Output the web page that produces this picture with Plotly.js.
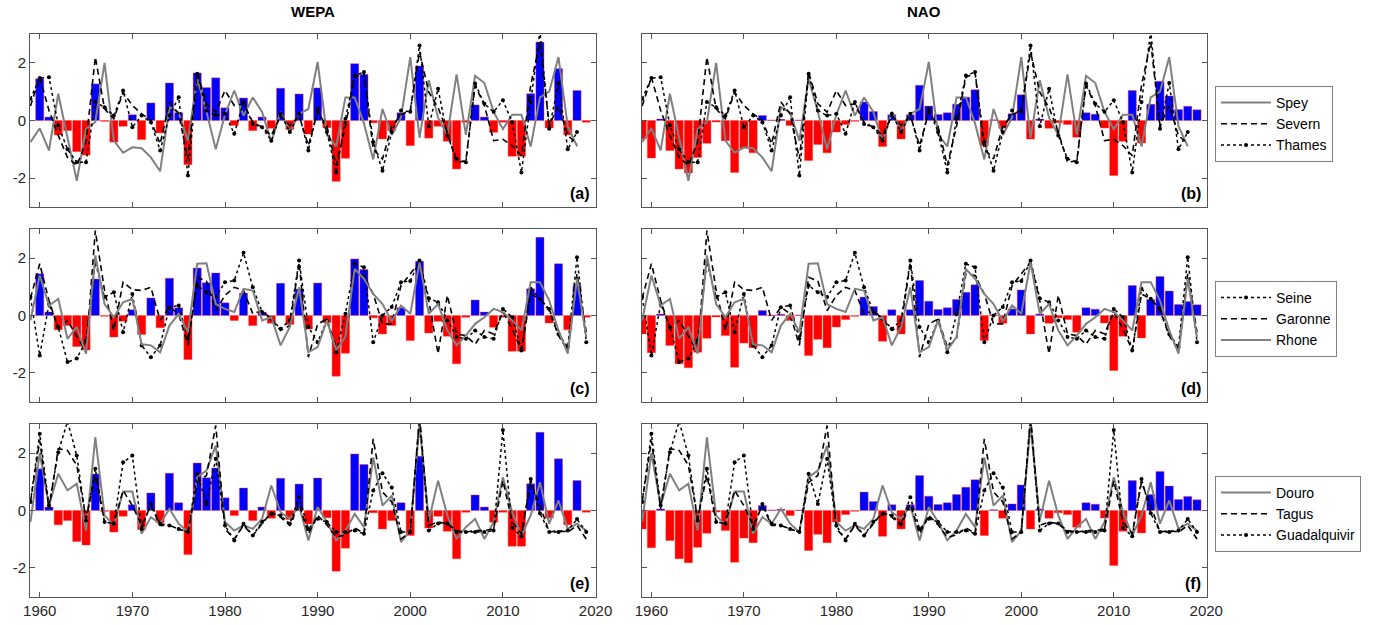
<!DOCTYPE html>
<html>
<head>
<meta charset="utf-8">
<script src="https://cdn.plot.ly/plotly-3.0.1.min.js"></script>
<style>
html,body{margin:0;padding:0;background:#fff;}
#chart{width:1387px;height:625px;}
</style>
</head>
<body>
<div id="chart"></div>
<script>
// ---------------- DATA (years 1959..2019) ----------------
const years = [1959,1960,1961,1962,1963,1964,1965,1966,1967,1968,1969,1970,1971,1972,1973,1974,1975,1976,1977,1978,1979,1980,1981,1982,1983,1984,1985,1986,1987,1988,1989,1990,1991,1992,1993,1994,1995,1996,1997,1998,1999,2000,2001,2002,2003,2004,2005,2006,2007,2008,2009,2010,2011,2012,2013,2014,2015,2016,2017,2018,2019];

const wepa = [null,1.45,0.12,-0.5,-0.35,-1.08,-1.2,1.27,-0.03,-0.75,-0.2,0.2,-0.66,0.61,-0.43,1.3,0.27,-1.53,1.65,1.14,1.48,0.44,-0.17,0.78,-0.35,0.12,-0.27,1.12,-0.31,0.92,-0.47,1.13,-0.25,-2.11,-1.31,1.97,1.6,-0.08,-0.64,-0.35,0.27,-0.87,1.89,-0.61,-0.2,-0.72,-1.68,-0.06,0.54,0.12,-0.41,-0.06,-1.24,-1.24,0.93,2.72,-0.26,1.8,-0.5,1.04,-0.06];

const nao = [-0.64,-1.3,0.05,-1.04,-1.68,-1.82,-1.28,-0.79,-0.05,-0.7,-1.8,-0.96,-1.12,0.17,0.02,0.04,-0.17,0.02,-1.39,-0.83,-1.12,-0.4,-0.14,-0.03,0.64,0.31,-0.9,0.2,-0.64,0.2,1.22,0.5,0.21,0.27,0.56,0.81,1.07,-0.87,0.03,-0.27,0.23,0.89,-0.64,0.05,-0.27,-0.08,-0.14,-0.58,0.27,0.22,-0.26,-1.91,-0.72,1.04,-0.78,0.56,1.36,0.85,0.38,0.49,0.37];

const spey = [-0.75,-0.27,-1.04,0.93,-0.6,-2.09,-0.3,-0.05,2.0,-0.7,-1.12,-0.93,-0.96,-1.28,-1.76,0.46,0.27,-0.7,1.45,0.3,-1.0,0.2,1.04,0.17,0.8,0.3,-0.75,0.3,-0.4,0.23,0.4,2.03,-0.5,-0.9,0.8,0.8,-0.1,-1.35,0.4,-0.5,0.1,2.2,-0.6,1.4,0.1,-0.5,1.6,-0.5,1.55,1.3,0.3,-0.3,0.2,0.2,-0.9,0.8,1.0,2.2,-0.2,-0.9,null];
const severn = [0.5,1.5,0.35,-0.52,-1.28,-1.56,-0.75,2.2,0.4,0.06,0.98,0.52,0.23,0.0,-0.81,0.64,0.23,-1.33,1.68,0.58,0.29,1.04,0.52,0.58,-0.06,-0.23,-0.52,0.17,-0.17,0.17,-0.87,0.3,-0.2,-1.56,-0.2,1.5,1.65,-1.0,-1.33,-0.2,0.2,0.35,2.38,0.98,0.45,-0.4,-1.45,-1.4,1.22,0.52,-0.7,-0.65,-0.87,-1.22,1.22,2.72,-0.17,0.52,-0.52,-0.81,null];
const thames = [0.75,1.47,1.5,-0.17,-1.0,-1.45,-1.45,0.64,0.46,0.17,1.04,-0.23,0.17,-0.06,-1.04,0.17,0.81,-1.91,1.62,0.35,0.17,0.23,-0.46,0.64,-0.12,-0.23,-0.7,0.23,-0.4,0.23,-1.04,0.4,-0.4,-1.8,0.06,1.56,1.68,-0.75,-1.74,-0.4,0.35,0.3,2.6,-0.2,1.1,-0.52,-1.33,-1.45,1.28,0.58,0.3,0.7,-0.06,-1.8,0.64,3.1,-0.29,1.3,-1.0,-0.4,null];

const seine = [0.64,-1.39,0.4,-0.4,-1.62,-1.5,-0.87,1.85,0.64,0.81,-0.58,0.75,-1.04,-1.45,-1.04,0.29,0.35,-0.81,1.04,0.81,0.64,1.16,1.22,2.18,0.98,0.12,-0.12,-0.46,-0.17,1.91,-0.4,-0.93,-0.17,-1.28,0.06,1.8,1.68,-0.93,0.0,0.3,1.16,1.2,1.91,0.6,0.46,-0.17,-0.75,-0.81,-0.52,-0.75,-0.81,0.23,-0.06,-1.22,0.93,0.58,0.23,-0.64,-1.1,2.03,-0.93];
const garonne = [0.6,1.8,0.52,-0.46,-0.17,-0.7,-1.28,2.96,0.87,-0.52,1.16,0.9,0.87,0.98,-0.17,0.29,0.06,-1.04,1.33,1.2,0.17,0.7,0.98,0.87,0.06,0.17,-0.12,-0.52,-0.35,1.85,-1.45,-0.3,-0.12,-1.1,-0.81,1.45,1.39,0.75,-0.29,-0.29,1.04,1.45,1.85,0.52,-1.33,0.7,-0.64,-0.7,-1.0,-0.52,-0.64,0.12,-0.46,-1.22,0.75,0.58,0.17,-0.7,-1.22,1.45,-0.58];
const rhone = [-0.17,1.39,0.35,0.58,-0.81,-0.4,-1.33,2.09,0.4,-0.06,0.46,0.58,-1.0,-1.04,-1.28,-0.35,0.06,-0.58,1.8,1.82,0.4,0.23,0.12,0.93,0.87,-0.17,-0.06,-1.04,-0.4,0.98,-1.28,-1.1,-0.17,-1.2,-0.75,1.62,1.28,0.75,0.4,-0.2,0.35,0.06,1.85,0.06,0.4,-0.52,-1.04,-0.7,-0.29,-0.06,0.23,0.12,-0.17,-0.52,1.16,1.16,0.52,-0.52,-1.33,1.28,-0.75];

const douro = [-0.4,2.0,0.17,1.28,0.7,0.93,-0.7,2.55,-0.17,-0.52,0.66,0.66,-0.81,-0.23,-0.46,0.06,-0.46,-0.75,1.16,1.39,2.26,-0.4,-0.7,-0.52,-0.64,-0.29,0.87,-0.06,-0.29,0.17,-1.04,0.12,-0.4,-1.04,-0.7,-0.12,-0.58,1.85,0.17,0.52,-1.1,-0.7,3.0,-0.35,1.04,-0.17,-0.99,-0.58,-0.29,-0.99,-0.4,1.16,-0.06,-0.87,-0.17,0.98,-0.46,0.35,-0.64,-0.46,-0.7];
const tagus = [0.3,2.43,0.06,2.15,2.09,1.57,-0.29,1.22,-0.4,-0.46,0.7,0.17,-0.52,0.17,-0.52,-0.52,-0.64,-0.75,0.98,1.22,2.96,-0.64,-0.99,-0.52,-0.87,-0.46,-0.06,-0.23,-0.52,0.23,-0.81,-0.17,-0.5,-0.93,-0.85,-0.6,-0.8,2.49,0.64,0.3,-0.99,-0.75,3.3,-0.52,-0.4,-0.46,-0.7,-0.75,-0.7,-0.7,-0.64,1.04,-0.4,-0.81,0.98,0.17,-0.75,-0.7,-0.75,-0.52,-0.99];
const guadalquivir = [0.3,2.67,0.17,2.03,3.1,1.91,-0.35,1.45,-0.4,-0.46,1.68,1.91,-0.64,0.23,-0.46,-0.52,-0.64,-0.75,1.28,0.23,1.8,-0.52,-1.04,-0.46,-0.87,-0.4,-0.12,-0.17,-0.46,0.46,-0.64,-0.29,-0.4,-0.75,-0.75,-0.7,-0.81,0.7,1.3,0.8,-0.75,-0.75,3.2,-0.7,-0.45,-0.45,-0.75,-0.75,-0.75,-0.75,-0.7,2.8,-0.6,-0.9,1.1,-0.1,-0.75,-0.75,-0.7,-0.3,-0.75];

const indexNames = ["WEPA","NAO"];
const panelLabels = ["(a)","(b)","(c)","(d)","(e)","(f)"];
const groups = [
  [{name:"Spey",y:spey,s:"gray"},{name:"Severn",y:severn,s:"dash"},{name:"Thames",y:thames,s:"dot"}],
  [{name:"Seine",y:seine,s:"dot"},{name:"Garonne",y:garonne,s:"dash"},{name:"Rhone",y:rhone,s:"gray"}],
  [{name:"Douro",y:douro,s:"gray"},{name:"Tagus",y:tagus,s:"dash"},{name:"Guadalquivir",y:guadalquivir,s:"dot"}]
];
const tickYears = [1960,1970,1980,1990,2000,2010,2020];

// ---------------- STYLE / LAYOUT ----------------
const W = 1387, H = 625;
const FONT = "Liberation Sans, Arial, Helvetica, sans-serif";
const colDom = [[30/W, 596/W],[641.7/W, 1206.7/W]];
const rowDom = [[1-207/H, 1-34/H],[1-401.7/H, 1-229.3/H],[1-596.7/H, 1-424.3/H]];
const legendY = [1-86/H, 1-281/H, 1-476/H];

function lineStyle(s){
  if (s === "gray") return {mode:"lines", line:{color:"#808080", width:2}};
  if (s === "dash") return {mode:"lines", line:{color:"#000", width:1.6, dash:"6px,4px"}};
  return {mode:"lines+markers", line:{color:"#000", width:1.5, dash:"dot"}, marker:{color:"#000", size:4}};
}

const traces = [];
const layout = {
  width: W, height: H,
  margin: {l:0, r:0, t:0, b:0},
  paper_bgcolor: "#fff", plot_bgcolor: "#fff",
  font: {family: FONT, size: 15, color: "#262626"},
  bargap: 0.1,
  annotations: [],
  showlegend: true
};

let k = 0;
for (let r = 0; r < 3; r++) {
  for (let c = 0; c < 2; c++) {
    k++;
    const xa = k === 1 ? "x" : "x" + k;
    const ya = k === 1 ? "y" : "y" + k;
    const xkey = k === 1 ? "xaxis" : "xaxis" + k;
    const ykey = k === 1 ? "yaxis" : "yaxis" + k;
    const idx = c === 0 ? wepa : nao;
    traces.push({
      type: "bar", x: years, y: idx, xaxis: xa, yaxis: ya, width: 0.88,
      marker: {color: idx.map(v => v === null ? "rgba(0,0,0,0)" : (v >= 0 ? "#0000ff" : "#ff0000")),
               line: {color: "rgba(255,60,60,0.7)", width: 0.6}},
      showlegend: false, hoverinfo: "skip"
    });
    groups[r].forEach(g => {
      const st = lineStyle(g.s);
      traces.push(Object.assign({
        type: "scatter", x: years, y: g.y, xaxis: xa, yaxis: ya, name: g.name,
        legend: r === 0 ? "legend" : "legend" + (r + 1),
        showlegend: c === 0, connectgaps: false, cliponaxis: true
      }, st));
    });
    layout[xkey] = {
      domain: colDom[c], anchor: ya, range: [1958.95, 2020.05],
      tickvals: tickYears, ticktext: tickYears.map(String),
      showticklabels: r === 2, ticks: "inside", ticklen: 5, tickcolor: "#555",
      showline: true, linecolor: "#555", linewidth: 1, mirror: "ticks",
      showgrid: false, zeroline: false, tickfont: {size: 15, color: "#262626"}
    };
    layout[ykey] = {
      domain: rowDom[r], anchor: xa, range: [-3, 3],
      tickvals: [-2, 0, 2], ticktext: ["-2","0","2"],
      showticklabels: c === 0, ticks: "inside", ticklen: 5, tickcolor: "#555",
      showline: true, linecolor: "#555", linewidth: 1, mirror: "ticks",
      showgrid: false, zeroline: false, tickfont: {size: 15, color: "#262626"}
    };
    layout.annotations.push({
      text: "<b>" + panelLabels[k-1] + "</b>", xref: xa + " domain", yref: ya + " domain",
      x: 1, y: 0, xanchor: "right", yanchor: "bottom", xshift: -4, yshift: 3,
      showarrow: false, font: {size: 16, color: "#000", family: FONT}
    });
  }
}
indexNames.forEach((nm, c) => {
  layout.annotations.push({
    text: "<b>" + nm + "</b>", xref: "paper", yref: "paper",
    x: (colDom[c][0] + colDom[c][1]) / 2, y: 1 - 12/H, xanchor: "center", yanchor: "middle",
    showarrow: false, font: {size: 15, color: "#000", family: FONT}
  });
});
["legend","legend2","legend3"].forEach((lk, i) => {
  layout[lk] = {
    x: 1215/W, y: legendY[i], xanchor: "left", yanchor: "top",
    bgcolor: "#fff", bordercolor: "#7f7f7f", borderwidth: 1,
    font: {size: 14, color: "#000", family: FONT}, itemwidth: 50,
    traceorder: "normal", tracegroupgap: 0
  };
});

Plotly.newPlot("chart", traces, layout, {staticPlot: true, displayModeBar: false});
</script>
</body>
</html>
